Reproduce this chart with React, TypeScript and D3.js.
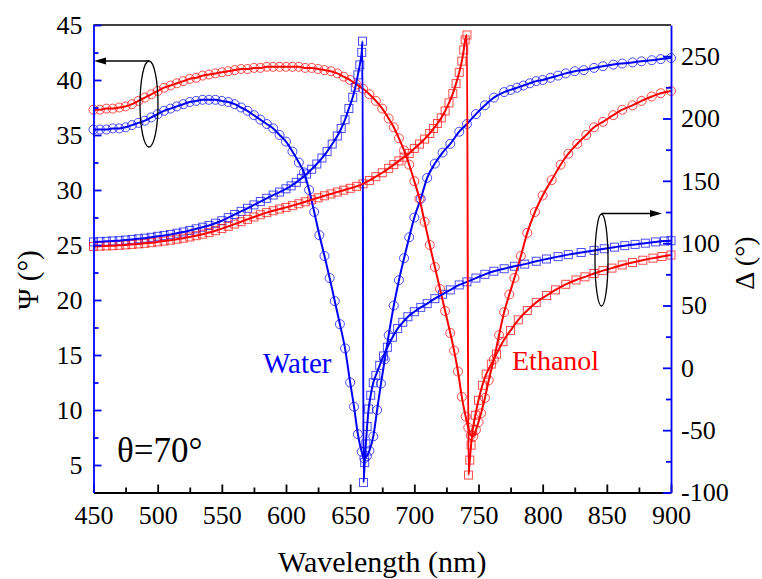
import React, { useEffect, useRef } from 'react';
import * as d3 from 'd3';

// Psi (left axis) - water, open circles
const psiWaterNm = [450, 455, 460, 465, 470, 475, 480, 485, 490, 495, 500, 505, 510, 515, 520, 525, 530, 535, 540, 545, 550, 555, 560, 565, 570, 575, 580, 585, 590, 595, 600, 605, 610, 614, 618, 622, 626, 630, 634, 638, 642, 646, 650, 653, 656, 659, 661, 663, 665, 668, 671, 674, 677, 680, 684, 688, 692, 696, 700, 705, 710, 716, 722, 728, 735, 741, 748, 755, 762, 770, 775, 780, 785, 790, 795, 800, 806, 812, 818, 825, 832, 840, 847, 855, 862, 870, 877, 885, 892, 900];
const psiWater = [35.5, 35.5, 35.5, 35.6, 35.6, 35.7, 35.9, 36.1, 36.3, 36.6, 36.9, 37.2, 37.4, 37.6, 37.8, 38.0, 38.1, 38.2, 38.2, 38.2, 38.1, 38.0, 37.8, 37.5, 37.2, 36.8, 36.4, 36.0, 35.6, 35.0, 34.4, 33.5, 32.5, 31.6, 30.0, 28.0, 25.9, 24.0, 22.0, 19.9, 17.8, 15.6, 12.5, 10.3, 7.8, 6.2, 5.6, 5.8, 6.3, 7.6, 10.0, 12.4, 14.6, 16.8, 19.5, 21.8, 23.8, 25.7, 27.5, 29.2, 31.1, 32.4, 33.4, 34.2, 35.3, 36.0, 36.9, 37.7, 38.4, 38.9, 39.1, 39.3, 39.5, 39.7, 39.9, 40.0, 40.2, 40.4, 40.6, 40.8, 40.9, 41.1, 41.25, 41.4, 41.5, 41.6, 41.7, 41.8, 41.9, 42.0];

// Psi (left axis) - ethanol, open circles
const psiEthanolNm = [450, 455, 460, 465, 470, 475, 480, 485, 490, 495, 500, 505, 510, 515, 520, 525, 530, 535, 540, 545, 550, 555, 560, 565, 570, 575, 580, 585, 590, 595, 600, 605, 610, 615, 620, 625, 630, 635, 640, 645, 650, 655, 660, 665, 670, 675, 680, 684, 688, 692, 696, 700, 704, 708, 712, 716, 720, 724, 728, 731, 734, 737, 740, 742, 744, 746, 748, 750, 752, 755, 758, 762, 766, 770, 774, 778, 783, 788, 794, 800, 807, 814, 820, 827, 834, 840, 847, 855, 862, 870, 877, 885, 892, 900];
const psiEthanol = [37.3, 37.3, 37.4, 37.4, 37.5, 37.6, 37.8, 38.1, 38.4, 38.7, 39.0, 39.3, 39.5, 39.7, 39.9, 40.1, 40.2, 40.4, 40.5, 40.6, 40.7, 40.8, 40.9, 41.0, 41.0, 41.1, 41.1, 41.2, 41.2, 41.2, 41.2, 41.2, 41.2, 41.1, 41.1, 41.0, 40.9, 40.8, 40.6, 40.3, 40.0, 39.6, 39.2, 38.7, 38.1, 37.4, 36.5, 35.7, 34.7, 33.6, 32.3, 30.8, 29.2, 27.1, 25.0, 23.0, 21.0, 19.0, 17.0, 15.4, 13.5, 11.2, 9.4, 8.4, 7.7, 7.6, 8.2, 8.9, 9.7, 11.1, 12.7, 14.6, 16.8, 18.9, 20.5, 22.0, 24.0, 26.1, 28.0, 29.5, 30.9, 32.3, 33.3, 34.2, 35.0, 35.7, 36.2, 36.8, 37.3, 37.7, 38.1, 38.5, 38.8, 39.0];

// Delta (right axis) - water, open squares
const deltaWaterNm = [450, 455, 460, 465, 470, 475, 480, 485, 490, 495, 500, 505, 510, 515, 520, 525, 530, 535, 540, 545, 550, 555, 560, 565, 570, 575, 580, 585, 590, 595, 600, 604, 608, 612, 616, 620, 624, 628, 632, 636, 640, 643, 646, 649, 652, 654, 656, 657.5, 659, 659.6, 660.4, 661.3, 662.2, 663.2, 664.4, 666, 668, 670, 673, 676, 679, 683, 687, 691, 695, 700, 705, 710, 716, 722, 728, 735, 741, 748, 755, 762, 770, 778, 786, 795, 803, 812, 820, 830, 840, 848, 856, 864, 872, 880, 888, 895, 900];
const deltaWater = [101, 101.2, 101.5, 101.8, 102, 102.5, 103, 103.5, 104, 104.7, 105.5, 106.2, 107, 108, 109, 110.2, 111.5, 112.8, 114.2, 116, 118, 120.5, 123, 125.5, 128, 130.7, 133.4, 136, 138.6, 141, 143.6, 146, 148.8, 152, 155.5, 159.3, 163.5, 168.3, 173.5, 179.5, 186, 192, 199, 208, 217, 225, 235, 243, 253, 262, -92, -76, -61, -47, -33, -22, -12, -6, 2, 9.5, 16.5, 24.5, 31.5, 36.5, 41, 45, 48.5, 51.5, 55.5, 59, 62.5, 66.5, 69, 72, 75, 77.5, 79.5, 81.5, 83.2, 85.5, 87.3, 89.2, 90.8, 92.5, 94.2, 95.5, 96.8, 98, 99, 100, 101, 101.7, 102];

// Delta (right axis) - ethanol, open squares
const deltaEthanolNm = [450, 455, 460, 465, 470, 475, 480, 485, 490, 495, 500, 505, 510, 515, 520, 525, 530, 535, 540, 545, 550, 555, 560, 565, 570, 575, 580, 585, 590, 595, 600, 605, 610, 615, 620, 625, 630, 635, 640, 645, 650, 655, 660, 665, 670, 675, 680, 684, 688, 692, 696, 700, 704, 708, 712, 715, 718, 721, 724, 727, 730, 732.5, 735, 737, 738.5, 739.6, 741, 742.2, 743.2, 744.2, 745.5, 747.5, 750, 753, 756, 760, 764, 769, 775, 781, 788, 795, 803, 810, 818, 826, 833, 840, 847, 854, 862, 870, 878, 886, 893, 900];
const deltaEthanol = [97.4, 97.6, 97.8, 98, 98.3, 98.6, 99, 99.4, 99.9, 100.4, 101, 101.7, 102.4, 103.2, 104, 105, 106, 107.2, 108.5, 110, 111.7, 113.5, 115.3, 117.2, 119.1, 121, 122.8, 124.5, 126, 127.4, 128.7, 130.1, 131.6, 133.2, 134.8, 136.4, 138, 139.5, 141, 142.5, 144, 145.6, 147.6, 150.3, 153.3, 156.5, 160, 163, 166, 169, 172, 176, 179.5, 183.5, 188, 192, 196, 200.5, 206, 212.5, 220, 228, 237, 246, 255, 263, 267, -86, -74, -62, -50, -38, -26, -14, -5, 3, 11, 21, 30, 38.5, 46, 52.5, 58, 62.5, 67, 70.5, 73, 75.7, 78, 80, 82.5, 84.5, 86.3, 88, 89.3, 90.5];

const xTicks = [450, 500, 550, 600, 650, 700, 750, 800, 850, 900];
const psiTicks = [5, 10, 15, 20, 25, 30, 35, 40, 45];
const deltaTicks = [-100, -50, 0, 50, 100, 150, 200, 250];

const BLUE = '#0000ff';
const RED = '#ff0000';
const FONT = '"Liberation Serif", "Times New Roman", serif';

const App = () => {
  const ref = useRef<SVGSVGElement>(null);

  useEffect(() => {
    if (!ref.current) return;
    const svg = d3.select(ref.current);
    svg.selectAll('*').remove();

    const width = 762;
    const height = 579;
    const left = 93.5, right = 671, top = 25, bottom = 492.5;

    const x = d3.scaleLinear().domain([450, 900]).range([left, right]);
    const yPsi = d3.scaleLinear().domain([2.5, 45]).range([bottom, top]);
    const yDelta = d3.scaleLinear().domain([-100, 275]).range([bottom, top]);

    svg.append('rect').attr('width', width).attr('height', height).attr('fill', '#ffffff');

    const series = [
      { nm: psiWaterNm, v: psiWater, y: yPsi, color: BLUE, shape: 'circle' },
      { nm: psiEthanolNm, v: psiEthanol, y: yPsi, color: RED, shape: 'circle' },
      { nm: deltaWaterNm, v: deltaWater, y: yDelta, color: BLUE, shape: 'square' },
      { nm: deltaEthanolNm, v: deltaEthanol, y: yDelta, color: RED, shape: 'square' },
    ];

    const plot = svg.append('g');

    // markers first, fitted line on top
    series.forEach(s => {
      const pts = s.nm.map((n, i) => [x(n), s.y(s.v[i])] as [number, number]);
      if (s.shape === 'circle') {
        plot.append('g').selectAll('circle')
          .data(pts)
          .enter()
          .append('circle')
          .attr('cx', d => d[0])
          .attr('cy', d => d[1])
          .attr('r', 4.5)
          .attr('fill', 'none')
          .attr('stroke', s.color)
          .attr('stroke-opacity', 0.7)
          .attr('stroke-width', 1);
      } else {
        plot.append('g').selectAll('rect')
          .data(pts)
          .enter()
          .append('rect')
          .attr('x', d => d[0] - 4)
          .attr('y', d => d[1] - 4)
          .attr('width', 8)
          .attr('height', 8)
          .attr('fill', 'none')
          .attr('stroke', s.color)
          .attr('stroke-opacity', 0.7)
          .attr('stroke-width', 1);
      }
    });

    series.forEach(s => {
      const line = d3.line<number>()
        .x((d, i) => x(s.nm[i]))
        .y(d => s.y(d))
        .curve(d3.curveMonotoneX);
      plot.append('path')
        .datum(s.v)
        .attr('fill', 'none')
        .attr('stroke', s.color)
        .attr('stroke-width', 2)
        .attr('d', line);
    });

    // top frame
    svg.append('line')
      .attr('x1', left).attr('x2', right).attr('y1', top).attr('y2', top)
      .attr('stroke', '#000').attr('stroke-width', 1.5);

    const styleAxis = (g, color) => {
      g.select('.domain').attr('stroke', color).attr('stroke-width', 1.8);
      g.selectAll('.tick line').attr('stroke', color).attr('stroke-width', 1.8);
      g.selectAll('.tick text')
        .attr('fill', '#000')
        .style('font-family', FONT)
        .style('font-size', '26px');
    };

    // bottom axis
    const xAxis = svg.append('g')
      .attr('transform', `translate(0, ${bottom})`)
      .call(d3.axisBottom(x).tickValues(xTicks).tickSizeInner(-8).tickSizeOuter(0).tickPadding(13));
    styleAxis(xAxis, '#000');
    const xMinor = svg.append('g')
      .attr('transform', `translate(0, ${bottom})`)
      .call(d3.axisBottom(x).tickValues(d3.range(475, 900, 50)).tickSize(-5).tickFormat(() => ''));
    xMinor.select('.domain').remove();
    xMinor.selectAll('.tick line').attr('stroke', '#000').attr('stroke-width', 1.8);

    // left axis (Psi)
    const yAxisL = svg.append('g')
      .attr('transform', `translate(${left}, 0)`)
      .call(d3.axisLeft(yPsi).tickValues(psiTicks).tickSizeInner(-8).tickSizeOuter(0).tickPadding(11));
    styleAxis(yAxisL, BLUE);
    const yMinorL = svg.append('g')
      .attr('transform', `translate(${left}, 0)`)
      .call(d3.axisLeft(yPsi).tickValues(d3.range(7.5, 45, 5)).tickSize(-5).tickFormat(() => ''));
    yMinorL.select('.domain').remove();
    yMinorL.selectAll('.tick line').attr('stroke', BLUE).attr('stroke-width', 1.8);

    // right axis (Delta)
    const yAxisR = svg.append('g')
      .attr('transform', `translate(${right}, 0)`)
      .call(d3.axisRight(yDelta).tickValues(deltaTicks).tickSizeInner(-8).tickSizeOuter(0).tickPadding(10)
        .tickFormat(d => String(d).replace('−', '-')));
    styleAxis(yAxisR, BLUE);
    const yMinorR = svg.append('g')
      .attr('transform', `translate(${right}, 0)`)
      .call(d3.axisRight(yDelta).tickValues(d3.range(-75, 250, 50)).tickSize(-5).tickFormat(() => ''));
    yMinorR.select('.domain').remove();
    yMinorR.selectAll('.tick line').attr('stroke', BLUE).attr('stroke-width', 1.8);

    // axis titles
    svg.append('text')
      .attr('x', (left + right) / 2)
      .attr('y', 572)
      .attr('text-anchor', 'middle')
      .style('font-family', FONT)
      .style('font-size', '30px')
      .text('Wavelength (nm)');

    svg.append('text')
      .attr('transform', 'translate(38, 280) rotate(-90)')
      .attr('text-anchor', 'middle')
      .style('font-family', FONT)
      .style('font-size', '29px')
      .text('Ψ (°)');

    svg.append('text')
      .attr('transform', 'translate(754, 263) rotate(-90)')
      .attr('text-anchor', 'middle')
      .style('font-family', FONT)
      .style('font-size', '28px')
      .text('Δ (°)');

    // annotations
    svg.append('text')
      .attr('x', 117).attr('y', 462)
      .style('font-family', FONT).style('font-size', '35px')
      .text('θ=70°');
    svg.append('text')
      .attr('x', 263).attr('y', 373)
      .attr('fill', BLUE)
      .style('font-family', FONT).style('font-size', '29px')
      .text('Water');
    svg.append('text')
      .attr('x', 512).attr('y', 370)
      .attr('fill', RED)
      .style('font-family', FONT).style('font-size', '28px')
      .text('Ethanol');

    // ellipse + arrow markers pointing to each axis
    const ann = svg.append('g').attr('fill', 'none').attr('stroke', '#000').attr('stroke-width', 1.3);
    ann.append('ellipse').attr('cx', 149).attr('cy', 104).attr('rx', 9).attr('ry', 43);
    ann.append('line').attr('x1', 149).attr('y1', 61).attr('x2', 104).attr('y2', 61);
    svg.append('path').attr('d', 'M94,61 L106,57.5 L106,64.5 Z').attr('fill', '#000');

    ann.append('ellipse').attr('cx', 601.5).attr('cy', 260).attr('rx', 6.5).attr('ry', 46);
    ann.append('line').attr('x1', 601.5).attr('y1', 213.5).attr('x2', 652).attr('y2', 213.5);
    svg.append('path').attr('d', 'M662,213.5 L650,210 L650,217 Z').attr('fill', '#000');
  }, []);

  return (
    <svg
      ref={ref}
      width={762}
      height={579}
      style={{ position: 'absolute', left: 0, top: 0, display: 'block' }}
    />
  );
};

export default App;
